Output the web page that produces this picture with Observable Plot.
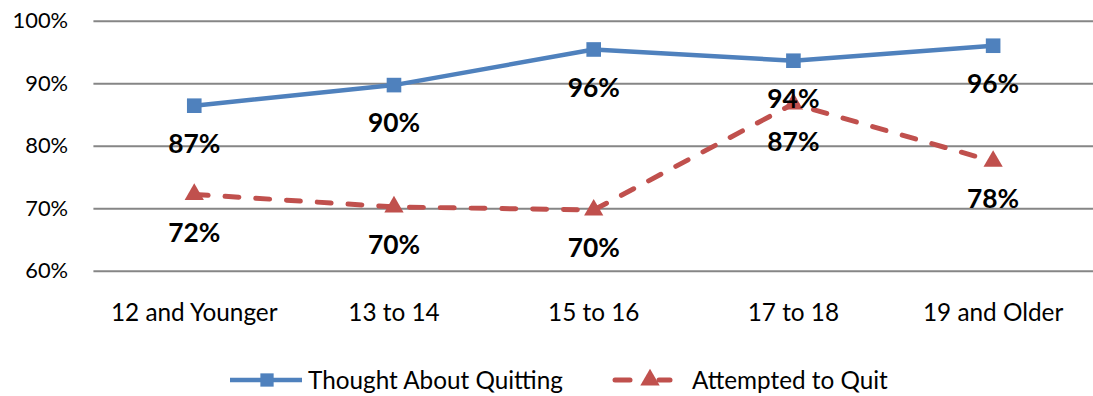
<!DOCTYPE html>
<html>
<head>
<meta charset="utf-8">
<script src="https://cdn.jsdelivr.net/npm/d3@7"></script>
<script src="https://cdn.jsdelivr.net/npm/@observablehq/plot@0.6"></script>
<style>
  html, body { margin: 0; padding: 0; background: #fff; overflow: hidden; }
  #wrap { width: 1093px; overflow: hidden; }
  #legend { width: 1093px; height: 51px; position: relative; font-family: Lato, "Open Sans", sans-serif; font-size: 24.3px; color: #000; }
  .item { position: absolute; top: 24px; display: flex; align-items: center; height: 26px; white-space: nowrap; }
</style>
</head>
<body>
<div id="wrap"><div id="chart"></div></div>
<div id="legend"></div>
<script>
const categories = ["12 and Younger", "13 to 14", "15 to 16", "17 to 18", "19 and Older"];
const thoughtAboutQuitting = [0.865, 0.898, 0.955, 0.937, 0.961];
const attemptedToQuit = [0.723, 0.703, 0.698, 0.868, 0.776];
const seriesNames = ["Thought About Quitting", "Attempted to Quit"];
const yTicks = [0.6, 0.7, 0.8, 0.9, 1.0];

const thought = categories.map((c, i) => ({cat: c, v: thoughtAboutQuitting[i]}));
const attempted = categories.map((c, i) => ({cat: c, v: attemptedToQuit[i]}));

const blue = "#4F81BD", red = "#C0504D";
const fmt = d3.format(".0%");

const chart = Plot.plot({
  width: 1100,
  height: 345,
  marginLeft: 94,
  marginRight: 0,
  marginTop: 21,
  marginBottom: 72.5,
  style: {fontFamily: "Lato, 'Open Sans', sans-serif", fontSize: "22px", color: "#000", background: "#fff"},
  x: {type: "point", domain: categories, padding: 0.5, label: null, tickSize: 0, tickPadding: 33},
  y: {domain: [0.6, 1.0], ticks: yTicks, tickFormat: fmt, label: null, tickSize: 0, tickPadding: 26},
  marks: [
    Plot.ruleY(yTicks, {stroke: "#868686", strokeWidth: 2}),
    Plot.line(attempted, {x: "cat", y: "v", stroke: red, strokeWidth: 5, strokeDasharray: "14,17", strokeLinecap: "round"}),
    Plot.line(thought, {x: "cat", y: "v", stroke: blue, strokeWidth: 4.5}),
    Plot.dot(thought, {x: "cat", y: "v", symbol: "square", r: 8.3, fill: blue, stroke: "none"}),
    Plot.dot(attempted, {x: "cat", y: "v", symbol: "triangle", r: 7.2, fill: red, stroke: "none"}),
    Plot.text(thought, {x: "cat", y: "v", text: d => fmt(d.v), dy: 39, fontWeight: "bold", fontSize: 26.5, fill: "#000"}),
    Plot.text(attempted, {x: "cat", y: "v", text: d => fmt(d.v), dy: 39, fontWeight: "bold", fontSize: 26.5, fill: "#000"})
  ]
});
chart.querySelectorAll("g[aria-label='x-axis tick label'] text, g[aria-label='x-axis tick label']").forEach(e => e.setAttribute("font-size", "24.5"));
document.getElementById("chart").appendChild(chart);

const legend = document.getElementById("legend");
// blue item
{
  const div = document.createElement("div");
  div.className = "item";
  div.style.left = "230px";
  const s = d3.create("svg").attr("width", 72).attr("height", 26);
  s.append("line").attr("x1", 0).attr("x2", 72).attr("y1", 13).attr("y2", 13).attr("stroke", blue).attr("stroke-width", 4.5);
  s.append("path").attr("d", d3.symbol(d3.symbolSquare, Math.PI * 7.5 * 7.5)()).attr("transform", "translate(37,13)").attr("fill", blue);
  div.appendChild(s.node());
  const t = document.createElement("span");
  t.style.marginLeft = "6px";
  t.textContent = seriesNames[0];
  div.appendChild(t);
  legend.appendChild(div);
}
// red item
{
  const div = document.createElement("div");
  div.className = "item";
  div.style.left = "610px";
  const s = d3.create("svg").attr("width", 64).attr("height", 26);
  s.append("line").attr("x1", 5).attr("x2", 20).attr("y1", 13).attr("y2", 13).attr("stroke", red).attr("stroke-width", 5).attr("stroke-linecap", "round");
  s.append("line").attr("x1", 49).attr("x2", 60).attr("y1", 13).attr("y2", 13).attr("stroke", red).attr("stroke-width", 5).attr("stroke-linecap", "round");
  s.append("path").attr("d", d3.symbol(d3.symbolTriangle, Math.PI * 7.2 * 7.2)()).attr("transform", "translate(40,13)").attr("fill", red);
  div.appendChild(s.node());
  const t = document.createElement("span");
  t.style.marginLeft = "18px";
  t.textContent = seriesNames[1];
  div.appendChild(t);
  legend.appendChild(div);
}
</script>
</body>
</html>
